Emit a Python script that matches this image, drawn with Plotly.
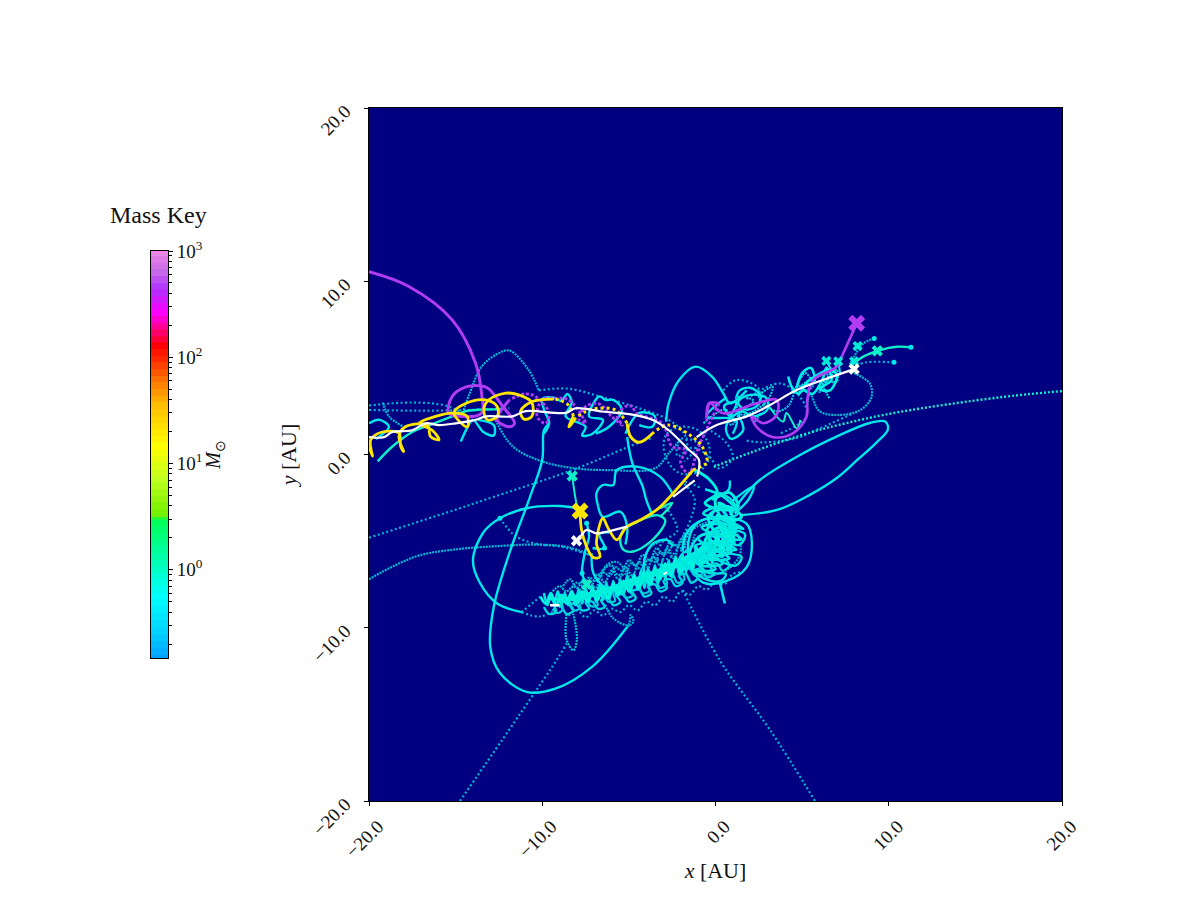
import numpy as np
import plotly.graph_objects as go

# ---------- data (AU) ----------
TICKS = [-20, -10, 0, 10, 20]
MASS_LEVELS = [0.148,0.17,0.2,0.23,0.27,0.31,0.36,0.42,0.49,0.56,0.65,0.75,0.87,1,1.15,1.33,1.54,1.78,2.05,2.37,2.74,3.1,3.2,3.5,4,4.6,5.3,6.2,7.1,8.2,9.5,11,12.7,14.7,17,19.6,22.6,26,30,35,40,47,54,62,72,83,96,111,128,148,170,197,227,262,303,350,405,468,540,625,720,835,965,1000]
MINOR_MASS = [0.2,0.3,0.4,0.5,0.6,0.7,0.8,0.9,2,3,4,5,6,7,8,9,20,30,40,50,60,70,80,90,200,300,400,500,600,700,800,900]
CMAP_LOG = [-0.83,-0.6,-0.26,-0.1,0.155,0.49,0.495,0.52,0.85,1.16,1.54,1.70,2.10,2.42,2.64,2.8,3.0]
CMAP_COL = ["#00A0FF","#00D0FF","#00FFFF","#00FFE0","#00FFA0","#00FF50","#70F000","#70F000","#C0FF20","#FFFF00","#FFC000","#FF9000","#FF0000","#FF00FF","#B030FF","#C868E8","#EE88E8"]

purple_a = [(8.15,7.57),(7.37,5.84),(6.99,5.07),(5.64,4.3),(5.3,3.2),(5.26,2.2),(4.49,1.23),(3.33,1.0),(2.37,1.6),(2.08,2.2),(2.76,1.8),(3.53,2.28),(3.53,3.15),(2.2,2.9),(0.45,2.38),(-0.32,2.96),(-0.51,2.0),(-0.38,2.96),(0.2,2.96)]
purple_b = [(0.2,2.96),(-0.96,0.46),(-1.54,-1.08),(-2.02,-0.5),(-1.73,0.27),(-2.5,0.46),(-3.08,1.8),(-4.6,2.4),(-4.8,2.77),(-5.2,2.77),(-5.67,2.2),(-5.38,1.7),(-6.0,2.2),(-6.73,2.92),(-7.5,2.77),(-7.88,2.0),(-7.5,1.8),(-8.46,3.15),(-9.04,3.25),(-10,3.15),(-10.3,2.2),(-9.8,1.8),(-9.6,2.4),(-10.4,3.35),(-11,3.5),(-11.9,3.15)]
purple_c = [(-11.9,3.15),(-12.6,2.0),(-11.9,1.6),(-11.6,1.8),(-12.3,2.8),(-13.1,3.8),(-13.5,3.96),(-14.4,3.9),(-15.2,3.35),(-15.4,2.4),(-14.8,2.2),(-13.5,2.4),(-13.5,3.5),(-13.85,5.27),(-15.2,7.77),(-17.7,9.7),(-20,10.55)]

yellow_a = [(-7.82,-3.26),(-7.73,-4.35),(-7.45,-5.3),(-7.05,-5.95),(-6.67,-5.9),(-6.87,-5.1),(-6.5,-3.68),(-6.2,-4.25),(-5.7,-4.93),(-5.3,-4.4),(-5.1,-4.16),(-4.35,-3.78),(-3.4,-3.2),(-2.45,-2.24),(-1.3,-0.9)]
yellow_dots0 = [(-1.3,-0.9),(-0.52,-0.5),(-0.48,-0.3),(-0.77,0.46),(-1.35,1.03),(-2.7,1.7),(-3.55,1.3)]
yellow_hook = [(-3.55,1.3),(-4.4,0.7),(-4.9,1.03),(-5.1,1.8)]
yellow_dots1 = [(-5.1,1.8),(-5.77,2.57),(-6.73,2.67),(-7.5,2.48),(-8.08,2.1)]
yellow_tick = [(-8.08,2.1),(-8.46,1.6),(-8.2,2.2)]
yellow_dots2 = [(-8.2,2.2),(-8.46,2.82),(-9.04,3.15),(-9.33,3.2)]
yellow_c = [(-9.33,3.2),(-10.6,3.05),(-11.25,2.5),(-11.05,2.04),(-10.6,2.2),(-10.6,3.0),(-11.35,3.44),(-12.1,3.54),(-13.1,3.15),(-13.37,2.6),(-13.17,2.0),(-12.6,2.2),(-12.6,2.77),(-13.27,3.15),(-14.4,2.96),(-15.1,2.4),(-14.33,1.6),(-14.33,2.2),(-15.1,2.4),(-16.15,2.2),(-17.1,1.8),(-16.35,1.4),(-15.96,0.85),(-16.45,1.04),(-16.63,1.7),(-17.9,1.6),(-18.27,1.04),(-18.0,0.17),(-18.17,0.46),(-18.27,1.23),(-19.23,1.3),(-19.9,0.85),(-19.8,-0.1),(-20,0.46)]

white_a = [(-20,1.0),(-19.13,1.0),(-18.65,1.3),(-17.5,1.4),(-16.73,1.8),(-15.96,1.7),(-15,1.8),(-13.85,2.0),(-13.27,2.2),(-11.73,2.2),(-10.96,2.5),(-8.65,2.4),(-8.07,2.67),(-6.54,2.48),(-4.8,2.3),(-3.65,2.0),(-2.7,1.4),(-1.54,0.27),(-0.96,-0.3),(-1.06,-1.27)]
white_b = [(8.0,4.93),(6.2,4.3),(4.68,3.72),(3.15,2.86),(1.8,2.2),(0.07,1.7),(-1.09,1.0)]
white_e = [(-1.2,-1.5),(-2.45,-2.44)]
white_f = [(-5.1,-4.16),(-6.3,-4.46),(-6.87,-4.55),(-7.45,-4.35),(-7.73,-4.65),(-8.02,-4.98)]
white_c = [(-9.55,-8.7),(-9.0,-8.7)]
white_d = [(-3.0,-6.9),(-2.8,-6.8)]

big_loop = [(-9.6,1.8),(-9.9,1.4),(-10,-0.3),(-10.7,-2.43),(-11.9,-5.7),(-12.8,-8.8),(-13,-11.1),(-12.45,-12.6),(-10.9,-13.7),(-9.2,-13.5),(-7.06,-12.2),(-5.1,-9.96)]
ellipse_left = [(-8,-3.1),(-9,-2.97),(-10.9,-3.1),(-12.44,-3.68),(-13.4,-4.5),(-14,-6.1),(-13.6,-7.4),(-12.6,-8.6),(-11.2,-9.1)]
ellipse_tail = [(-11.2,-9.1),(-10.1,-9.35),(-9.0,-8.8)]
ellipse_tail2 = [(-11.2,-9.1),(-10.1,-8.2)]
inner_dots = [(-12.44,-3.68),(-11.5,-4.74),(-10.1,-5.2),(-9,-5.3),(-7.25,-5.8)]
low_curve = [(-20,-7.2),(-18.5,-6.4),(-17,-5.8),(-14.75,-5.45),(-12.8,-5.3),(-10.3,-5.2),(-8.5,-5.35),(-7.25,-5.8)]
cross_left = [(-20,-4.8),(-14.75,-3.1),(-13.27,-2.6),(-8.27,-0.9),(-5.2,0.37),(-3.6,1.0)]
cross_right = [(20,3.66),(16.4,3.3),(10.6,2.45),(7.5,1.8),(4.9,1.1),(2,0.1),(-0.13,-0.72)]
long_ellipse = [(0.84,-3.5),(1.7,-2.34),(2.56,-1.47),(4.88,-0.03),(7.2,1.13),(8.9,1.82),(9.8,1.9),(9.95,1.44),(9.2,0.6),(8.2,-0.3),(7.0,-1.36),(5.5,-2.3),(3.55,-3.2),(1.4,-3.5)]
bottom_left = [(-14.75,-20),(-11.3,-15),(-9,-11.6),(-8.6,-10.9)]
narrow_loop = [(-8.6,-9.2),(-8.6,-10.7),(-8.2,-11.3),(-8,-10.7),(-8.2,-9.2)]
bottom_right = [(5.74,-20),(3.15,-15.9),(0.26,-11.9),(-1.9,-7.8)]
low_hook = [(-5.1,-9.96),(-4.74,-9.65),(-4.9,-9.27),(-5.03,-9.84),(-5.9,-9.46),(-6.4,-8.6)]

top_arc = [(-14.6,2.38),(-14.2,3.5),(-13.5,5.07),(-12.6,5.8),(-11.9,6.0),(-10.8,4.9),(-10.2,3.7)]
top_ring = [(-10.2,3.7),(-8.5,3.8),(-6.5,3.3),(-4.2,2.6),(-2.7,2.0),(-1.8,1.2),(-1.6,0.2)]
under_arc = [(-12.7,2),(-11.7,0.46),(-10,-0.4),(-8.1,-0.8),(-6.15,-0.9),(-3.5,-0.8),(-2.7,0.07),(-2.0,0.9)]
left_dots1 = [(-20,2.83),(-17.5,3.0),(-15.6,2.83),(-14.6,2.4)]
left_dots2 = [(-20,2.57),(-17.1,2.53),(-14.2,2.57),(-11.9,2.67)]
left_teal = [(-19.2,3),(-18.85,2.2),(-18,1.6)]
left_cyan1 = [(-20,1.8),(-19.4,2.0),(-18.85,1.6),(-19.6,0.9)]
left_cyan2 = [(-19.5,-0.4),(-18.65,0.46),(-17.5,1.3),(-16.5,1.7),(-15.2,2.2),(-14.4,2.5),(-13.2,2.6),(-12.4,2.6)]
left_cyan3 = [(-14.7,0.75),(-14.3,1.6),(-14.0,2.0),(-13.4,1.3),(-12.8,1.1),(-12.8,1.7),(-13.7,2.0)]
mid_loop1 = [(-9.9,1.2),(-9.6,1.8),(-9.9,2.6),(-10,3.2),(-9.4,3.3),(-8.9,3.1),(-8.55,3.5),(-8.3,3),(-8.65,2.2),(-7.5,1.6),(-7.7,1.1),(-7.1,1.2),(-6.5,2),(-7.3,2.2),(-6.7,3.35),(-6.35,3.15),(-5.9,3.15),(-5.4,2.6),(-6.15,1.6),(-6.9,1.2)]
mid_loop2 = [(-5.2,1.2),(-4.4,2.4),(-3.5,2.2),(-3.65,1.6),(-4.4,1.7)]
mid_drop = [(-5.1,1.0),(-4.8,-0.5),(-4.2,-1.85),(-4.0,-2.6),(-3.6,-3.6)]
mid_hump = [(-6.77,-3),(-6.87,-2.24),(-6.5,-1.76),(-5.9,-1.76),(-5.7,-0.9),(-4.55,-0.7),(-3.2,-1.28),(-2.4,-2.4)]
mid_hump2 = [(-6.77,-3),(-6.5,-3.6),(-5.5,-3.3),(-5.1,-4.16),(-5.2,-5.2)]
green_loop = [(-5.5,-4.9),(-5.3,-5.5),(-4.75,-5.6),(-3.6,-4.9),(-2.9,-3.8),(-3.4,-3.5),(-4.75,-4),(-5.3,-4.35),(-5.5,-4.9)]
green_tip = [(-3.2,-3.6),(-2.8,-3.2),(-2.5,-2.8),(-3.2,-3.1)]
mid_tail1 = [(-8.27,-1.24),(-8.1,-2.43),(-7.95,-3.2)]
mid_tail2 = [(-7.44,-7.5),(-7.7,-6.85),(-7.55,-5.7),(-7.3,-4.7),(-7.44,-3.97)]
mid_tail3 = [(-7.15,-5.7),(-7.05,-6.85),(-6.5,-7.6)]
mid_tail4 = [(-7.1,-5.4),(-6.4,-5.4),(-6.7,-4.6),(-6.0,-4.5)]
arch1 = [(-6.6,-7.05),(-6.3,-6.4),(-5.7,-6.2),(-5.2,-6.7),(-4.9,-7.25)]
arch2 = [(-4.15,-6.86),(-4.06,-5.9),(-3.6,-5.13),(-2.83,-4.93),(-2.45,-5.3)]
arch3 = [(-3.7,-6.85),(-4.1,-6.1),(-3.7,-5.3),(-2.83,-4.93)]

band_spine = [(-8.5,-8.3),(-8,-8.25),(-6,-7.75),(-4,-7.05),(-2,-6.2),(-0.3,-5.3)]
band_core = [(-10.1,-8.2),(-9.8,-8.6),(-9.5,-8.0),(-9.2,-8.7),(-8.9,-8.1),(-8.6,-8.6),(-8.3,-7.9),(-8.0,-8.6),(-7.7,-7.9),(-7.4,-8.5),(-7.1,-7.8),(-6.8,-8.4),(-6.5,-7.6),(-6.2,-8.3),(-5.9,-7.5),(-5.6,-8.1),(-5.3,-7.3),(-5.0,-7.9),(-4.7,-7.0),(-4.4,-7.7),(-4.1,-6.8),(-3.8,-7.5),(-3.5,-6.6),(-3.2,-7.2),(-2.9,-6.3),(-2.6,-7.0),(-2.3,-6.0),(-2.0,-6.8),(-1.7,-5.9),(-1.4,-6.6),(-1.1,-5.5),(-0.8,-6.4),(-0.5,-5.2),(-0.2,-6.2),(0.1,-4.7),(0.4,-5.9),(0.6,-4.2),(0.9,-5.4),(1.0,-3.6),(0.6,-4.8),(0.1,-3.5),(0.9,-4.0),(0.2,-2.8),(0.8,-3.2),(1.1,-4.6),(0.3,-5.4),(-0.6,-5.9),(-1.5,-6.2),(-2.6,-6.6),(-3.6,-7.0),(-4.6,-7.4),(-5.6,-7.7),(-6.6,-8.0),(-7.6,-8.2),(-8.6,-8.3),(-9.6,-8.35)]
band_core2 = [(-9.9,-8.0),(-9.7,-8.7),(-9.5,-8.1),(-9.3,-8.6),(-9.1,-7.9),(-8.9,-8.7),(-8.7,-8.0),(-8.5,-8.7),(-8.3,-7.9),(-8.1,-8.7),(-7.9,-7.8),(-7.7,-8.6),(-7.5,-7.7),(-7.3,-8.5),(-7.1,-7.6),(-6.9,-8.5),(-6.7,-7.5),(-6.5,-8.4),(-6.3,-7.4),(-6.1,-8.3),(-5.9,-7.3),(-5.7,-8.2),(-5.5,-7.2),(-5.3,-8.1),(-5.1,-7.0),(-4.9,-8.0),(-4.7,-6.9),(-4.5,-7.8),(-4.3,-6.7),(-4.1,-7.7),(-3.9,-6.6),(-3.7,-7.5),(-3.5,-6.4),(-3.3,-7.4),(-3.1,-6.3),(-2.9,-7.2),(-2.7,-6.1),(-2.5,-7.1),(-2.3,-5.9),(-2.1,-6.9),(-1.9,-5.8),(-1.7,-6.8),(-1.5,-5.6),(-1.3,-6.7),(-1.1,-5.3),(-0.9,-6.5),(-0.7,-5.1),(-0.5,-6.3),(-0.3,-4.8),(-0.1,-6.1),(0.1,-4.4),(0.3,-5.9),(0.5,-4.0),(0.7,-5.6),(0.9,-3.6),(1.1,-5.2)]
band_scallops = [(-9.9,-8.8),(-9.6,-9.2),(-9.2,-9.1),(-9.3,-8.7),(-8.9,-8.8),(-8.6,-9.2),(-8.2,-9.0),(-8.4,-8.6),(-8.0,-8.7),(-7.7,-9.0),(-7.3,-8.9),(-7.5,-8.5),(-7.1,-8.5),(-6.8,-8.9),(-6.4,-8.8),(-6.6,-8.4),(-6.2,-8.3),(-5.9,-8.7),(-5.5,-8.5),(-5.7,-8.1),(-5.3,-8.1),(-5.0,-8.5),(-4.6,-8.3),(-4.8,-7.9),(-4.4,-7.8),(-4.1,-8.2),(-3.7,-8.0),(-3.9,-7.6),(-3.5,-7.5),(-3.2,-7.9),(-2.8,-7.7),(-3.0,-7.3),(-2.6,-7.2),(-2.3,-7.6),(-1.9,-7.4),(-2.1,-7.0),(-1.7,-6.9),(-1.4,-7.4),(-1.0,-7.1),(-1.2,-6.7),(-0.8,-6.6),(-0.5,-7.1),(-0.1,-6.9),(-0.3,-6.4),(0.1,-6.3),(0.4,-6.7),(0.8,-6.4),(0.5,-6.0)]
band_top = [(-9.4,-7.9),(-9.0,-7.6),(-8.6,-7.9),(-8.2,-7.6),(-7.8,-7.8),(-7.3,-7.4),(-6.9,-7.7),(-6.6,-6.8),(-6.0,-6.4),(-5.7,-6.9),(-5.2,-6.9),(-4.9,-6.3),(-4.3,-6.6),(-3.9,-6.1),(-3.4,-6.2),(-3.3,-5.7),(-2.8,-5.7),(-2.4,-5.2),(-2.0,-5.4),(-1.6,-5.0)]
band_fuzz1 = [(-8.8,-7.6),(-8.4,-7.2),(-8.0,-7.7),(-7.6,-7.2),(-7.2,-7.6),(-6.8,-6.9),(-6.4,-7.4),(-6.0,-6.7),(-5.6,-7.2),(-5.2,-6.5),(-4.8,-7.0),(-4.4,-6.2),(-4.0,-6.8),(-3.6,-5.9),(-3.2,-6.4),(-2.8,-5.4),(-2.4,-6.0),(-2.0,-4.9),(-1.6,-5.6),(-1.2,-4.6)]
band_fuzz2 = [(-8.5,-9.3),(-8.0,-9.0),(-7.5,-9.4),(-7.0,-9.0),(-6.5,-9.3),(-6.0,-8.9),(-5.5,-9.1),(-5.0,-8.7),(-4.5,-9.0),(-4.0,-8.5),(-3.5,-8.7),(-3.0,-8.2),(-2.5,-8.5),(-2.0,-7.9),(-1.5,-8.1),(-1.0,-7.6),(-0.5,-7.8),(0,-7.3),(0.5,-7.5),(1,-6.9),(1.5,-6.8)]
band_fuzz3 = [(-9.4,-8.9),(-9.1,-9.15),(-8.8,-8.9),(-8.9,-8.5),(-8.5,-8.6),(-8.2,-9.0),(-7.8,-8.85),(-7.9,-8.4),(-7.5,-8.3),(-7.2,-8.75),(-6.8,-8.7),(-6.9,-8.2),(-6.5,-8.05),(-6.2,-8.5),(-5.8,-8.45),(-5.9,-7.95),(-5.5,-7.8),(-5.2,-8.25),(-4.8,-8.15),(-4.9,-7.65),(-4.5,-7.5),(-4.2,-8.0),(-3.8,-7.85),(-3.9,-7.3),(-3.5,-7.2),(-3.2,-7.7),(-2.8,-7.5),(-2.9,-7.0),(-2.5,-6.9),(-2.2,-7.4),(-1.8,-7.2),(-1.9,-6.7),(-1.5,-6.6),(-1.2,-7.0),(-0.8,-6.9),(-0.9,-6.3),(-0.5,-6.2),(-0.2,-6.7)]
band_fuzz4 = [(-8.3,-7.7),(-8.0,-7.4),(-7.6,-7.6),(-7.3,-7.1),(-6.9,-7.3),(-6.5,-6.8),(-6.1,-7.0),(-5.8,-6.5),(-5.4,-6.7),(-5.0,-6.1),(-4.6,-6.4),(-4.2,-5.8),(-3.8,-6.1),(-3.4,-5.4),(-3.0,-5.8),(-2.6,-5.0),(-2.2,-5.3),(-1.8,-4.5)]
cloud_circle = [(-1.5,-4.75),(-1.1,-4),(0.06,-3.6),(1.8,-4),(2.1,-5.1),(1.8,-6.5),(0.64,-7.3),(-0.7,-7.4),(-1.5,-6.2),(-1.5,-4.75)]
cloud_ring2 = [(-2.0,-5.6),(-1.4,-4.4),(-0.2,-3.9),(1.2,-4.5),(1.4,-5.8),(0.4,-6.8),(-1.1,-6.9),(-1.6,-5.8)]
cloud_ring3 = [(-1.9,-5.6),(-1.7,-4.6),(-1.0,-3.9),(-0.3,-3.7),(0.5,-4.0)]
cloud_ring4 = [(-1.6,-6.0),(-1.2,-5.0),(-0.6,-4.6),(0.0,-4.8)]
cloud_tangle = [(-1.2,-0.9),(-0.4,-1.4),(0.1,-2.2),(-0.6,-2.8),(0.4,-3.2),(1.3,-3.0),(0.8,-2.2),(0.0,-2.6),(0.5,-3.8),(1.5,-3.6),(0.7,-3.0),(-0.4,-3.6),(0.2,-4.6),(1.2,-4.2),(0.4,-3.6),(-0.5,-4.4),(0.0,-5.2),(1.0,-5.0),(0.3,-4.2),(-0.6,-5.0),(-0.2,-5.8),(0.9,-5.6),(0.2,-5.0),(-1.0,-5.6),(-0.6,-6.3)]
cloud_tangle2 = [(-0.6,-2.0),(0.4,-2.4),(1.2,-3.2),(0.2,-3.0),(-0.7,-3.4),(0.9,-3.9),(1.6,-4.3),(0.4,-4.0),(-0.8,-4.2),(0.5,-4.8),(1.5,-4.9),(0.6,-4.4),(-1.0,-4.8),(-0.2,-5.4),(1.2,-5.5),(0.3,-5.1),(-1.2,-5.3),(-0.5,-6.0),(0.8,-6.0),(0.1,-5.6),(-1.4,-5.8),(-0.9,-6.4),(0.4,-6.3),(-0.3,-5.9),(-1.7,-6.2),(-1.2,-6.7),(0,-6.6),(-0.8,-6.1)]
cloud_tangle3 = [(0.2,-2.2),(0.9,-2.6),(1.3,-3.4),(0.7,-3.6),(0.2,-3.0),(-0.2,-3.6),(0.6,-4.2),(1.7,-4.6),(1.4,-5.2),(0.6,-5.0),(0,-4.4),(-0.4,-5.0),(0.3,-5.6),(1.5,-5.9),(1.2,-6.4),(0.4,-6.2),(-0.3,-5.6),(-1.0,-6.0),(-0.5,-6.8),(0.6,-6.9),(0.3,-7.3),(-0.6,-7.2),(-1.4,-6.6),(-2.1,-6.1),(-1.7,-5.6),(-1.0,-6.2)]
cloud_stub = [(0.25,-7.4),(0.54,-8.6)]
cloud_spike = [(0.83,-2.8),(2.2,-1.86),(1.9,-2.6),(1.1,-3.4)]
cloud_spur = [(0.83,-1.5),(0.75,-2.05),(-0.2,-2.6)]
cloud_links = [(-2.9,-3.0),(-2.2,-4.4),(-3.0,-5.0),(-3.5,-6.0),(-2.7,-6.0),(-2.0,-5.0),(-1.2,-2.6),(-1.8,-1.6),(-0.9,-1.9)]

hub_ring = [(-3.0,0.5),(-2.8,1.2),(-2,1.6),(-1,1.4),(-0.4,0.6),(-0.4,-0.3),(-1,-1),(-2,-1.1),(-2.7,-0.5),(-3.0,0.5)]
hub_spokes = [(-0.5,1.5),(0.6,0.7),(1.0,-0.2),(0.2,-0.8),(-0.3,-0.2),(-1.3,0.4),(-2.2,-0.1),(-2.0,0.9),(-1.0,0.6),(-1.8,-0.4)]
arc_top_right = [(-2.85,1.9),(-2.7,2.96),(-2.1,4.3),(-1.15,5.07),(-0.2,4.5),(0.45,3.53),(0.83,2.95),(1.8,3.7)]
rt_dots1 = [(0.45,3.7),(1.2,4.3),(2.4,3.9),(2.76,2.8),(2.2,1.8)]
rt_dots2 = [(1.8,3.2),(3.7,4.1),(4.9,3.3),(5.26,2.2),(3.7,1.2)]
rt_dots3 = [(1.8,0.8),(2.76,0.7),(4.68,0.95),(6.0,1.5),(8.0,2.4)]
rt_loop = [(8,4.7),(8.9,4.1),(9.0,3.3),(8.33,2.55),(7,2.28),(6.0,2.5),(5.45,3.5),(5.26,2.2)]
rt_cyan = [(-0.7,1.8),(0.6,2.6),(0.9,1.7),(1.5,2.5),(2.2,3.1),(1.2,3.3),(1.5,2.3),(2.9,3.0),(3.3,3.9),(2.5,3.3),(3.5,2.5),(4.2,2.8),(4.7,4.0),(5.2,4.7),(5.6,3.9),(4.4,3.6),(5.9,4.5),(6.5,4.6),(6.0,3.6),(7.0,4.9),(7.0,4.2),(6.2,4.2),(6.6,3.2)]
rt_cyan2 = [(3.0,2.9),(3.9,1.9),(4.1,2.4),(4.7,1.5),(4.9,2.0)]
rt_cyan3 = [(4.7,3.9),(5.0,4.7),(5.5,5.0),(5.7,4.2),(5.0,3.9),(5.6,3.5),(6.2,4.4),(6.4,5.0),(6.7,4.3),(6.0,3.8),(6.6,3.7),(7.0,4.6),(6.6,4.9),(5.9,4.6),(5.3,4.2),(4.8,3.5),(4.4,3.9),(4.2,4.5)]
rt_cyan4 = [(1.2,3.3),(1.4,3.7),(2.0,3.85),(2.6,3.4),(2.4,2.8),(1.7,2.6),(1.3,3.0),(1.8,3.4),(2.9,3.3),(3.0,2.6),(2.2,2.2),(1.5,2.5),(0.9,2.2),(0.5,2.8),(1.2,3.0),(0.6,1.5),(0.9,0.9),(1.6,1.4),(1.3,2.3)]
rt_cyan5 = [(0.65,3.3),(-0.5,2.2),(1.2,2.0),(1.0,1.2)]
rt_tail1 = [(9.16,6.7),(8.53,6.4),(8.0,5.65),(7.76,5.2)]
rt_tail2 = [(11.28,6.19),(10.45,6.22),(9.5,6.03),(8.53,5.65),(7.76,5.07)]
rt_tail3 = [(10.3,5.32),(8.7,5.32),(7.95,5.07)]
rt_tail4 = [(6.4,5.4),(6.8,4.7)]
rt_tail5 = [(7.08,5.38),(7.2,4.7)]

purple_x = [(8.15,7.57)]
yellow_x = [(-7.82,-3.26)]
white_x = [(8.0,4.93),(-8.02,-4.98)]
aqua_x = [(-8.27,-1.24),(9.34,5.98),(-7.44,-7.5)]
cyan_x = [(8.2,6.26),(7.08,5.38),(6.4,5.4),(8.0,5.38)]
cyan_ends = [(9.16,6.7),(11.28,6.19),(10.3,5.32),(-12.44,-3.68),(-7.7,-6.85),(-6.4,-5.4),(-7.44,-3.97)]

# ---------- styles ----------
CYAN, TEAL, AQUA = "#00E8EA", "#00A8CC", "#10F0C8"
PURPLE, YELLOW = "#B23CF2", "#FFE600"
DOT = "2px,2.5px"
DENSE = "2px,1px"

fig = go.Figure()

def track(pts, color, width, dash="solid", spline=True):
    x, y = zip(*pts)
    fig.add_trace(go.Scatter(x=x, y=y, mode="lines", hoverinfo="skip",
                             line=dict(color=color, width=width, dash=dash,
                                       shape="spline" if spline else "linear", smoothing=1.0)))

for t in [left_dots1, left_dots2, top_ring, rt_dots1, rt_dots2, rt_dots3, cloud_links, bottom_left, bottom_right, cross_left, inner_dots, ellipse_tail, ellipse_tail2, rt_tail3, hub_ring, hub_spokes, band_fuzz2]:
    track(t, "#00B4D4", 2.2, DOT)
for t in [top_arc, under_arc, left_teal, low_curve, low_hook, rt_loop, rt_tail1, band_top, band_fuzz1, band_fuzz4, cloud_ring2, arch1, arch3]:
    track(t, "#00B8D4", 2.2, DENSE)
track(narrow_loop, "#00C8D0", 2.2, DENSE)
for t in [big_loop, ellipse_left, long_ellipse, arc_top_right, mid_hump, mid_hump2, mid_drop, left_cyan1, mid_loop1, mid_loop2, left_cyan3, cloud_circle, cloud_ring3, cloud_ring4, cloud_spike, cloud_spur, mid_tail2, mid_tail3, mid_tail4, arch2, rt_cyan5]:
    track(t, CYAN, 2.4)
track(cross_right, AQUA, 2.4, "2px,2px")
for t in [green_loop, green_tip, left_cyan2, rt_tail2]:
    track(t, AQUA, 2.4)
track(mid_tail1, AQUA, 2)
track(cloud_stub, CYAN, 2.6)
track(rt_tail4, CYAN, 2)
track(rt_tail5, CYAN, 2)
track(band_scallops, "#00D8E0", 2.4)
track(band_fuzz3, "#00D0DC", 2.2)
track(band_core2, "#00E4E0", 2.6)
track(band_core, "#00F4E0", 2.8)
track(band_spine, "#00EEDC", 6)
track(cloud_tangle, "#00F0E0", 3)
track(cloud_tangle2, "#00E8E0", 2.6)
track(cloud_tangle3, "#00E4E0", 2.4)
track(rt_cyan, "#00D8E0", 2, DENSE)
track(rt_cyan2, AQUA, 2)
track(rt_cyan3, "#00F0E8", 2.6)
track(rt_cyan4, "#00E8E8", 2.4)
track(purple_a, PURPLE, 2.6)
track(purple_b, PURPLE, 2.8, "3px,2px")
track(purple_c, PURPLE, 3)
track(yellow_a, YELLOW, 2.8)
track(yellow_hook, YELLOW, 3)
track(yellow_tick, YELLOW, 3)
track(yellow_c, YELLOW, 2.8)
for t in [yellow_dots0, yellow_dots1, yellow_dots2]:
    track(t, YELLOW, 3, "3px,3px")
for t in [white_a, white_b, white_e, white_f]:
    track(t, "#FFFFFF", 2.2)
track(white_c, "#FFFFFF", 2.6)
track(white_d, "#FFFFFF", 2)

def crosses(pts, color, size, symbol="x"):
    x, y = zip(*pts)
    fig.add_trace(go.Scatter(x=x, y=y, mode="markers", hoverinfo="skip",
                             marker=dict(symbol=symbol, color=color, size=size, line=dict(width=0))))

crosses(cyan_ends, CYAN, 5, "circle")
crosses(cyan_x, "#00EAD8", 9)
crosses(aqua_x, AQUA, 10)
crosses(white_x, "#FFFFFF", 10)
crosses(purple_x, PURPLE, 15)
crosses(yellow_x, YELLOW, 15)

# colour key drawn on a log axis
lo, hi = CMAP_LOG[0], CMAP_LOG[-1]
scale = [[(v - lo) / (hi - lo), c] for v, c in zip(CMAP_LOG, CMAP_COL)]
fig.add_trace(go.Heatmap(x=[0, 1], y=MASS_LEVELS, z=[[np.log10(m)] * 2 for m in MASS_LEVELS],
                         colorscale=scale, zmin=lo, zmax=hi, showscale=False, hoverinfo="skip",
                         xaxis="x2", yaxis="y2"))

FONT = "Liberation Serif"
W, H = 1200, 900
PAGE = 8  # the page's own body margin
def xd(px): return (px - PAGE) / W
def yd(px): return 1 - (px - PAGE) / H
TICKF = dict(family=FONT, size=19, color="#111")
axis_common = dict(showgrid=False, zeroline=False, showline=True, linecolor="black", linewidth=1,
                   mirror=True, ticks="outside", ticklen=4, tickcolor="black", tickfont=TICKF, automargin=False)
fig.update_layout(
    width=W, height=H, margin=dict(l=0, r=0, t=0, b=0, pad=0), autosize=False,
    paper_bgcolor="white", plot_bgcolor="#000080", showlegend=False,
    xaxis=dict(domain=[xd(369), xd(1062)], range=[-20, 20], tickvals=TICKS, tickformat=".1f", tickangle=-45,
               ticklabelshift=9, ticklabelstandoff=2, title=dict(text="<i>x</i> [AU]", font=dict(family=FONT, size=22, color="#111"), standoff=1),
               anchor="y", **axis_common),
    yaxis=dict(domain=[yd(801), yd(108)], range=[-20, 20], tickvals=TICKS, tickformat=".1f", tickangle=-45,
               ticklabelshift=1, ticklabelstandoff=15, title=dict(text="<i>y</i> [AU]", font=dict(family=FONT, size=22, color="#111"), standoff=6),
               anchor="x", **axis_common),
    xaxis2=dict(domain=[xd(150.5), xd(168)], range=[0, 1], showticklabels=False, ticks="", showgrid=False,
                zeroline=False, showline=True, linecolor="black", mirror=True, anchor="y2", automargin=False),
    yaxis2=dict(domain=[yd(658), yd(251)], type="log", range=[np.log10(0.148), 3], side="right",
                tickvals=[1, 10, 100, 1000], ticktext=["10<sup>0</sup>", "10<sup>1</sup>", "10<sup>2</sup>", "10<sup>3</sup>"],
                minor=dict(ticks="outside", ticklen=2.5, tickcolor="black", showgrid=False, tickvals=MINOR_MASS),
                showgrid=False, zeroline=False, showline=True, linecolor="black", mirror=True,
                ticks="outside", ticklen=4, tickcolor="black", tickfont=TICKF, automargin=False,
                title=dict(text="<i>M</i><sub>⊙</sub>", font=dict(family=FONT, size=20, color="#111"), standoff=2),
                anchor="x2"),
    annotations=[dict(text="Mass Key", x=xd(158), y=yd(215), xref="paper", yref="paper", showarrow=False,
                      xanchor="center", yanchor="middle", font=dict(family=FONT, size=24, color="#111"))],
)
fig.write_html("out.html")
